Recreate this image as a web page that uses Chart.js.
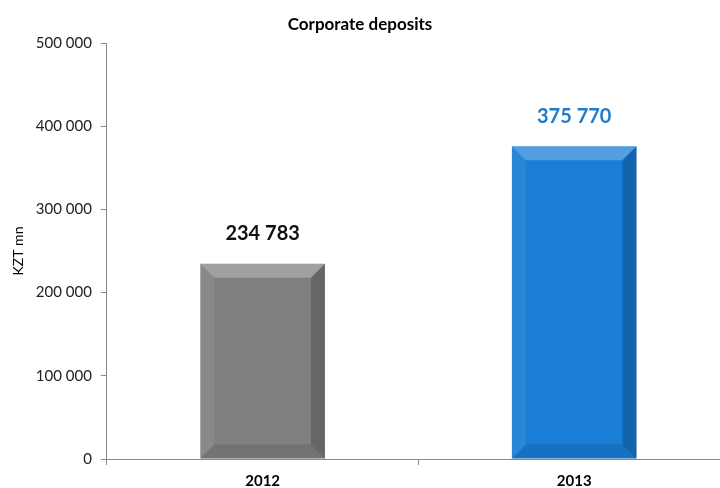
<!DOCTYPE html>
<html>
<head>
<meta charset="utf-8">
<script src="https://cdn.jsdelivr.net/npm/chart.js@4/dist/chart.umd.min.js"></script>
<style>
  html, body { margin: 0; padding: 0; background: #fff; overflow: hidden; }
  #wrap { width: 730px; height: 488px; }
</style>
</head>
<body>
<div id="wrap"><canvas id="deposits"></canvas></div>
<script>
const years = ['2012', '2013'];
const deposits = [234783, 375770];
const barColors = ['#808080', '#1a7ed6'];
const labelColors = ['#111111', '#1f7ccc'];
const yTicks = [0, 100000, 200000, 300000, 400000, 500000];
const chartTitle = 'Corporate deposits';

const fmt = v => String(v).replace(/\B(?=(\d{3})+(?!\d))/g, ' ');

// fake bevel: light top/left edges, dark right/bottom
const bevel = {
  id: 'bevel',
  afterDatasetsDraw(chart) {
    const ctx = chart.ctx;
    chart.getDatasetMeta(0).data.forEach((bar) => {
      const l = bar.x - bar.width / 2, r = bar.x + bar.width / 2;
      const t = bar.y, b = bar.base, s = 14;
      const face = (pts, color) => {
        ctx.beginPath();
        ctx.moveTo(pts[0][0], pts[0][1]);
        pts.slice(1).forEach(p => ctx.lineTo(p[0], p[1]));
        ctx.closePath();
        ctx.fillStyle = color;
        ctx.fill();
      };
      ctx.save();
      face([[l, t], [r, t], [r - s, t + s], [l + s, t + s]], 'rgba(255,255,255,0.25)');
      face([[l, t], [l + s, t + s], [l + s, b - s], [l, b]], 'rgba(255,255,255,0.07)');
      face([[r, t], [r, b], [r - s, b - s], [r - s, t + s]], 'rgba(0,0,0,0.2)');
      face([[l, b], [l + s, b - s], [r - s, b - s], [r, b]], 'rgba(0,0,0,0.1)');
      ctx.restore();
    });
  }
};

// value labels above bars + title centred on the visible 720px
const labels = {
  id: 'labels',
  afterDatasetsDraw(chart) {
    const ctx = chart.ctx;
    ctx.save();
    ctx.textAlign = 'center';
    ctx.textBaseline = 'middle';
    ctx.font = 'bold 20px Lato, "Open Sans", sans-serif';
    chart.getDatasetMeta(0).data.forEach((bar, i) => {
      ctx.fillStyle = labelColors[i];
      ctx.fillText(fmt(deposits[i]), bar.x, bar.y - 30);
    });
    ctx.fillStyle = '#000';
    ctx.font = 'bold 17px Lato, "Open Sans", sans-serif';
    ctx.fillText(chartTitle, 360, 25);
    ctx.restore();
  }
};

new Chart(document.getElementById('deposits'), {
  type: 'bar',
  data: {
    labels: years,
    datasets: [{
      label: chartTitle,
      data: deposits,
      backgroundColor: barColors,
      borderWidth: 0,
      categoryPercentage: 1,
      barPercentage: 0.4
    }]
  },
  options: {
    responsive: true,
    maintainAspectRatio: false,
    animation: false,
    layout: { padding: { top: 43, left: 6, right: 0, bottom: 0 } },
    plugins: {
      legend: { display: false },
      tooltip: { enabled: false },
      title: { display: false }
    },
    scales: {
      x: {
        afterFit: (scale) => { scale.height = 29; },
        grid: { display: true, offset: true, drawOnChartArea: false, tickLength: 6, color: '#888' },
        border: { color: '#888' },
        ticks: { color: '#000', font: { family: 'Lato, "Open Sans", sans-serif', size: 15, weight: 'bold' }, padding: 7 }
      },
      y: {
        min: 0,
        max: 500000,
        afterBuildTicks: (axis) => { axis.ticks = yTicks.map(v => ({ value: v })); },
        grid: { display: true, drawOnChartArea: false, tickLength: 6, color: '#888' },
        border: { color: '#888' },
        ticks: { color: '#222', font: { family: 'Lato, "Open Sans", sans-serif', size: 15 }, padding: 9, callback: v => fmt(v) },
        title: { display: true, text: 'KZT mn', color: '#000', font: { family: 'Lato, "Open Sans", sans-serif', size: 14 }, padding: { bottom: 0 } }
      }
    }
  },
  plugins: [bevel, labels]
});
</script>
</body>
</html>
